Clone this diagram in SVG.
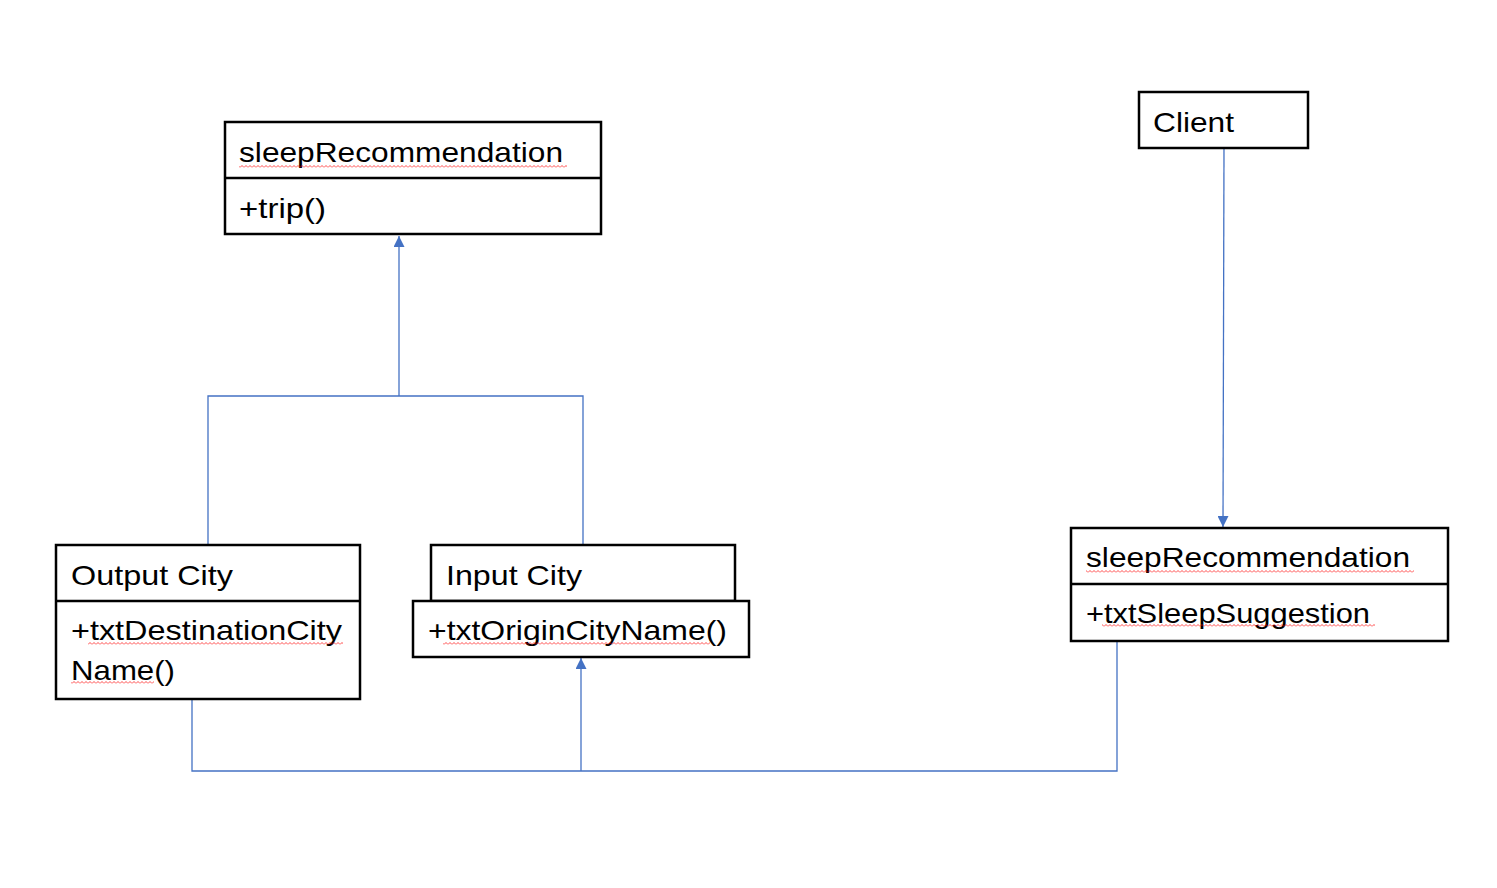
<svg xmlns="http://www.w3.org/2000/svg" width="1497" height="888" viewBox="0 0 1497 888">
<style>
.box{fill:#fff;stroke:#000;stroke-width:2.5}
.div{stroke:#000;stroke-width:2.5}
.t{font-family:"Liberation Sans","Open Sans",sans-serif;font-size:28px;fill:#000}
.c{fill:none;stroke:#4472C4;stroke-width:1.3}
.sq{fill:url(#squig)}
</style>
<defs>
<marker id="arr" viewBox="0 0 10 10" refX="10" refY="5" markerWidth="11" markerHeight="11" markerUnits="userSpaceOnUse" orient="auto">
<path d="M0,0 L10,5 L0,10 Z" fill="#4472C4"/>
</marker>
<pattern id="squig" patternUnits="userSpaceOnUse" width="4" height="3">
<path d="M0,2.5 L2,0.5 L4,2.5" fill="none" stroke="#f00" stroke-width="0.7"/>
</pattern>
</defs>
<rect width="1497" height="888" fill="#fff"/>
<g id="connectors">
<path class="c" d="M399,396 V236" marker-end="url(#arr)"/>
<path class="c" d="M208,545 V396 H583 V545"/>
<path class="c" d="M1224,148 L1223,527" marker-end="url(#arr)"/>
<path class="c" d="M192,699 V771 H1117 V641"/>
<path class="c" d="M581,771 V658" marker-end="url(#arr)"/>
</g>
<g id="sleepRecommendation1">
<rect class="box" x="225" y="122" width="376" height="112"/>
<line class="div" x1="225" y1="178" x2="601" y2="178"/>
<text class="t" x="239" y="162" textLength="324" lengthAdjust="spacingAndGlyphs">sleepRecommendation</text>
<rect class="sq" x="239" y="165" width="328" height="3"/>
<text class="t" x="239" y="218" textLength="87" lengthAdjust="spacingAndGlyphs">+trip()</text>
</g>
<g id="client">
<rect class="box" x="1139" y="92" width="169" height="56"/>
<text class="t" x="1153" y="132" textLength="81" lengthAdjust="spacingAndGlyphs">Client</text>
</g>
<g id="outputCity">
<rect class="box" x="56" y="545" width="304" height="154"/>
<line class="div" x1="56" y1="601" x2="360" y2="601"/>
<text class="t" x="71" y="585" textLength="162" lengthAdjust="spacingAndGlyphs">Output City</text>
<text class="t" x="71" y="640" textLength="271" lengthAdjust="spacingAndGlyphs">+txtDestinationCity</text>
<rect class="sq" x="88" y="642" width="255" height="3"/>
<text class="t" x="71" y="680" textLength="104" lengthAdjust="spacingAndGlyphs">Name()</text>
<rect class="sq" x="71" y="681" width="83" height="3"/>
</g>
<g id="inputCity">
<rect class="box" x="431" y="545" width="304" height="56"/>
<rect class="box" x="413" y="601" width="336" height="56"/>
<text class="t" x="446" y="585" textLength="136" lengthAdjust="spacingAndGlyphs">Input City</text>
<text class="t" x="428" y="640" textLength="299" lengthAdjust="spacingAndGlyphs">+txtOriginCityName()</text>
<rect class="sq" x="443" y="642" width="267" height="3"/>
</g>
<g id="sleepRecommendation2">
<rect class="box" x="1071" y="528" width="377" height="113"/>
<line class="div" x1="1071" y1="584" x2="1448" y2="584"/>
<text class="t" x="1086" y="567" textLength="324" lengthAdjust="spacingAndGlyphs">sleepRecommendation</text>
<rect class="sq" x="1086" y="570" width="328" height="3"/>
<text class="t" x="1086" y="623" textLength="284" lengthAdjust="spacingAndGlyphs">+txtSleepSuggestion</text>
<rect class="sq" x="1102" y="624" width="273" height="3"/>
</g>
</svg>
